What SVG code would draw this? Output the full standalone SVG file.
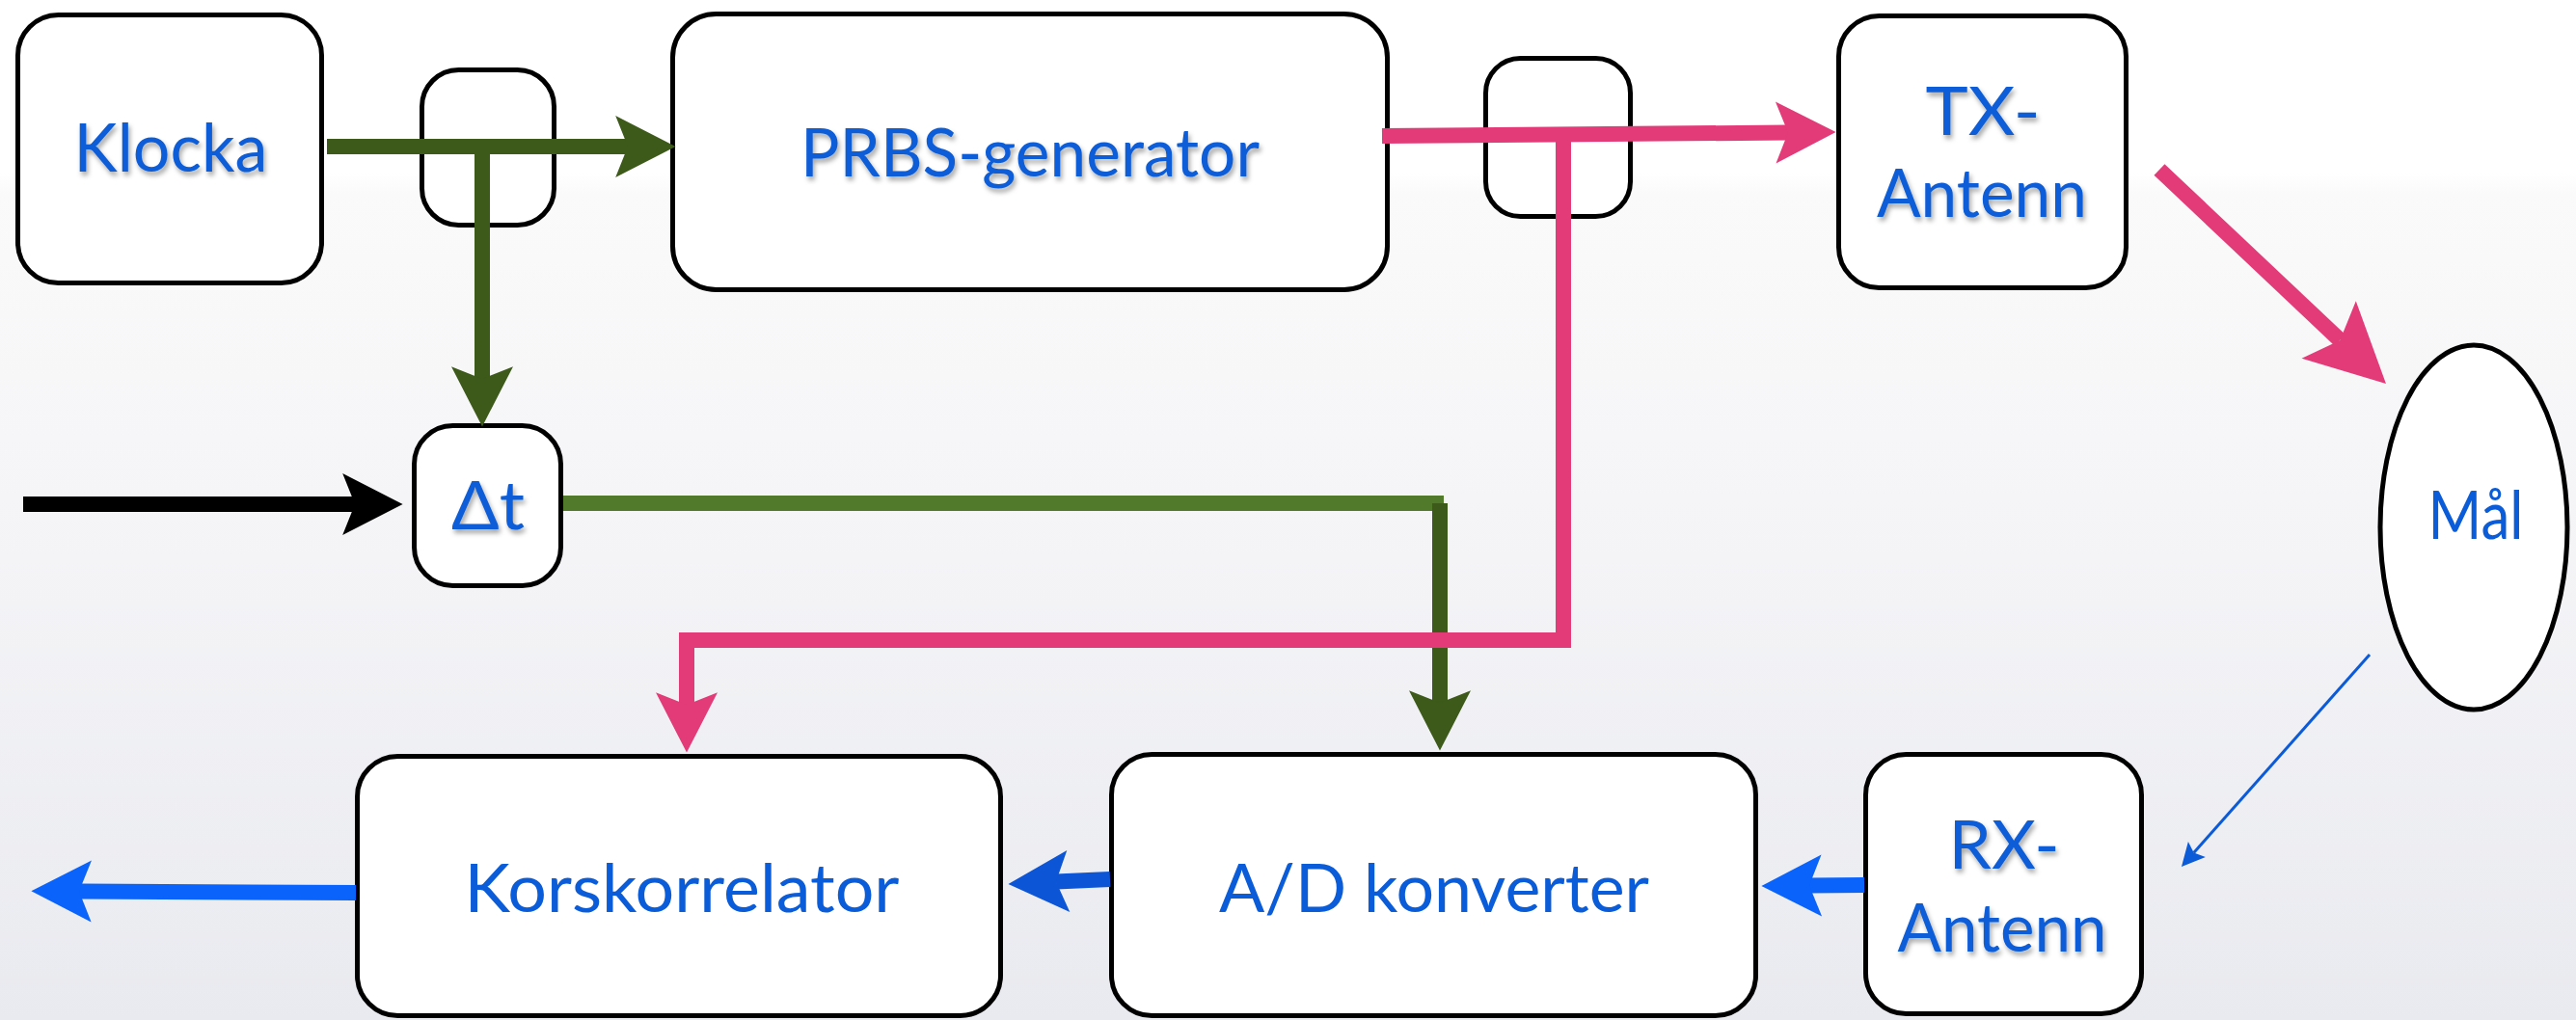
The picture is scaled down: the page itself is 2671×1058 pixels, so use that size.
<svg xmlns="http://www.w3.org/2000/svg" width="2671" height="1058" viewBox="0 0 2671 1058">
  <defs>
    <linearGradient id="bg" x1="0" y1="0" x2="0" y2="1">
      <stop offset="0" stop-color="#ffffff"/>
      <stop offset="0.17" stop-color="#ffffff"/>
      <stop offset="0.19" stop-color="#fafafa"/>
      <stop offset="0.55" stop-color="#f4f4f7"/>
      <stop offset="1" stop-color="#e9eaef"/>
    </linearGradient>
    <filter id="txtShadow" x="-10%" y="-20%" width="120%" height="150%">
      <feDropShadow dx="2" dy="4" stdDeviation="2.5" flood-color="#000" flood-opacity="0.35"/>
    </filter>
    <!-- notched arrowheads, sized in stroke-width units; ref point is the notch -->
    <marker id="hGreen" markerUnits="strokeWidth" viewBox="-1 -2.1 4.2 4.2" markerWidth="4.2" markerHeight="4.2" refX="0" refY="0" orient="auto" overflow="visible">
      <path d="M-0.8,-2 L3.1,0 L-0.8,2 L0,0 z" fill="#3d5a1b"/>
    </marker>
    <marker id="hPink" markerUnits="strokeWidth" viewBox="-1 -2.1 4.2 4.2" markerWidth="4.2" markerHeight="4.2" refX="0" refY="0" orient="auto" overflow="visible">
      <path d="M-0.8,-2 L3.1,0 L-0.8,2 L0,0 z" fill="#e33b78"/>
    </marker>
    <marker id="hPinkLg" markerUnits="strokeWidth" viewBox="-1 -2.6 5.2 5.2" markerWidth="5.2" markerHeight="5.2" refX="0" refY="0" orient="auto" overflow="visible">
      <path d="M-1,-2.56 L4.1,0 L-1,2.56 L0,0 z" fill="#e33b78"/>
    </marker>
    <marker id="hBlue" markerUnits="strokeWidth" viewBox="-1 -2.1 4.2 4.2" markerWidth="4.2" markerHeight="4.2" refX="0" refY="0" orient="auto" overflow="visible">
      <path d="M-0.8,-2 L3.1,0 L-0.8,2 L0,0 z" fill="#0a63fb"/>
    </marker>
    <marker id="hBlueDk" markerUnits="strokeWidth" viewBox="-1 -2.1 4.2 4.2" markerWidth="4.2" markerHeight="4.2" refX="0" refY="0" orient="auto" overflow="visible">
      <path d="M-0.8,-2 L3.1,0 L-0.8,2 L0,0 z" fill="#0b55d6"/>
    </marker>
    <marker id="hBlack" markerUnits="strokeWidth" viewBox="-1 -2.1 4.2 4.2" markerWidth="4.2" markerHeight="4.2" refX="0" refY="0" orient="auto" overflow="visible">
      <path d="M-0.8,-2 L3.1,0 L-0.8,2 L0,0 z" fill="#000"/>
    </marker>
    <marker id="hThin" markerUnits="strokeWidth" viewBox="-2 -4.2 8.6 8.4" markerWidth="8.6" markerHeight="8.4" refX="0" refY="0" orient="auto" overflow="visible">
      <path d="M-1.6,-4 L6.4,0 L-1.6,4 L0,0 z" fill="#0b5ad8"/>
    </marker>
    <style>
      .box { fill: #ffffff; stroke: #000; stroke-width: 5; }
      .lbl { font-family: Lato, "Gill Sans", "Liberation Sans", sans-serif; font-size: 70px; fill: #0b5cd8; text-anchor: middle; }
      .sh { filter: url(#txtShadow); }
      .w { fill: none; stroke-width: 16; stroke-linejoin: miter; stroke-linecap: butt; }
      .green { stroke: #3d5a1b; }
      .greenLt { stroke: #517a2b; }
      .pink { stroke: #e33b78; }
      .blue { stroke: #0a63fb; }
      .blueDk { stroke: #0b55d6; }
      .black { stroke: #000; }
    </style>
  </defs>

  <rect x="0" y="0" width="2671" height="1058" fill="url(#bg)"/>

  <!-- blocks -->
  <g id="klocka">
    <rect class="box" x="18.5" y="15.5" width="315" height="278" rx="42"/>
    <text class="lbl sh" x="177" y="178" textLength="201" lengthAdjust="spacingAndGlyphs">Klocka</text>
  </g>
  <g id="split-clock">
    <rect class="box" x="437.5" y="72.5" width="137" height="161" rx="38"/>
  </g>
  <g id="prbs">
    <rect class="box" x="697.5" y="14.5" width="741" height="286" rx="45"/>
    <text class="lbl sh" x="1068" y="183" textLength="476" lengthAdjust="spacingAndGlyphs">PRBS-generator</text>
  </g>
  <g id="split-prbs">
    <rect class="box" x="1540.5" y="60.5" width="150" height="164" rx="36"/>
  </g>
  <g id="tx-antenn">
    <rect class="box" x="1906.5" y="16.5" width="298" height="282" rx="42"/>
    <text class="lbl sh" x="2056" y="140" textLength="119" lengthAdjust="spacingAndGlyphs">TX-</text>
    <text class="lbl sh" x="2055" y="225" textLength="218" lengthAdjust="spacingAndGlyphs">Antenn</text>
  </g>
  <g id="mal">
    <ellipse class="box" cx="2565" cy="547" rx="97" ry="189"/>
    <text class="lbl" x="2567" y="559" textLength="99" lengthAdjust="spacingAndGlyphs">Mål</text>
  </g>
  <g id="delay">
    <rect class="box" x="429.5" y="441.5" width="152" height="166" rx="40"/>
    <text class="lbl sh" x="506" y="549" textLength="76" lengthAdjust="spacingAndGlyphs">Δt</text>
  </g>
  <g id="korskorrelator">
    <rect class="box" x="370.5" y="784.5" width="667" height="269" rx="42"/>
    <text class="lbl" x="707" y="946" textLength="451" lengthAdjust="spacingAndGlyphs">Korskorrelator</text>
  </g>
  <g id="ad-konverter">
    <rect class="box" x="1152.5" y="782.5" width="668" height="271" rx="42"/>
    <text class="lbl" x="1487" y="946" textLength="446" lengthAdjust="spacingAndGlyphs">A/D konverter</text>
  </g>
  <g id="rx-antenn">
    <rect class="box" x="1934.5" y="782.5" width="286" height="269" rx="42"/>
    <text class="lbl sh" x="2078" y="901" textLength="115" lengthAdjust="spacingAndGlyphs">RX-</text>
    <text class="lbl sh" x="2076" y="987" textLength="217" lengthAdjust="spacingAndGlyphs">Antenn</text>
  </g>

  <!-- signal paths -->
  <g id="connectors">
    <!-- clock -->
    <path class="w green" d="M339,152 L651,152" marker-end="url(#hGreen)"/>
    <path class="w green" d="M500,152 L500,393" marker-end="url(#hGreen)"/>
    <path class="w greenLt" d="M584,522 L1497,522"/>
    <path class="w green" d="M1493,522 L1493,729" marker-end="url(#hGreen)"/>
    <!-- trigger into delay -->
    <path class="w black" d="M24,523 L368,523" marker-end="url(#hBlack)"/>
    <!-- PRBS sequence -->
    <path class="w pink" d="M1433,141 L1854,137.5" marker-end="url(#hPink)"/>
    <path class="w pink" d="M1621,141 L1621,664 L712,664 L712,731" marker-end="url(#hPink)"/>
    <path class="w pink" d="M2239,176 L2426.3,352.9" marker-end="url(#hPinkLg)"/>
    <!-- echo -->
    <path fill="none" stroke="#0b5ad8" stroke-width="3" d="M2457,679 L2274.7,884.6" marker-end="url(#hThin)"/>
    <!-- received chain -->
    <path class="w blue" d="M1933,918 L1876,918.5" marker-end="url(#hBlue)"/>
    <path class="w blueDk" d="M1151,912 L1095,914.6" marker-end="url(#hBlueDk)"/>
    <path class="w blue" d="M369,926 L82,924.5" marker-end="url(#hBlue)"/>
  </g>
</svg>
